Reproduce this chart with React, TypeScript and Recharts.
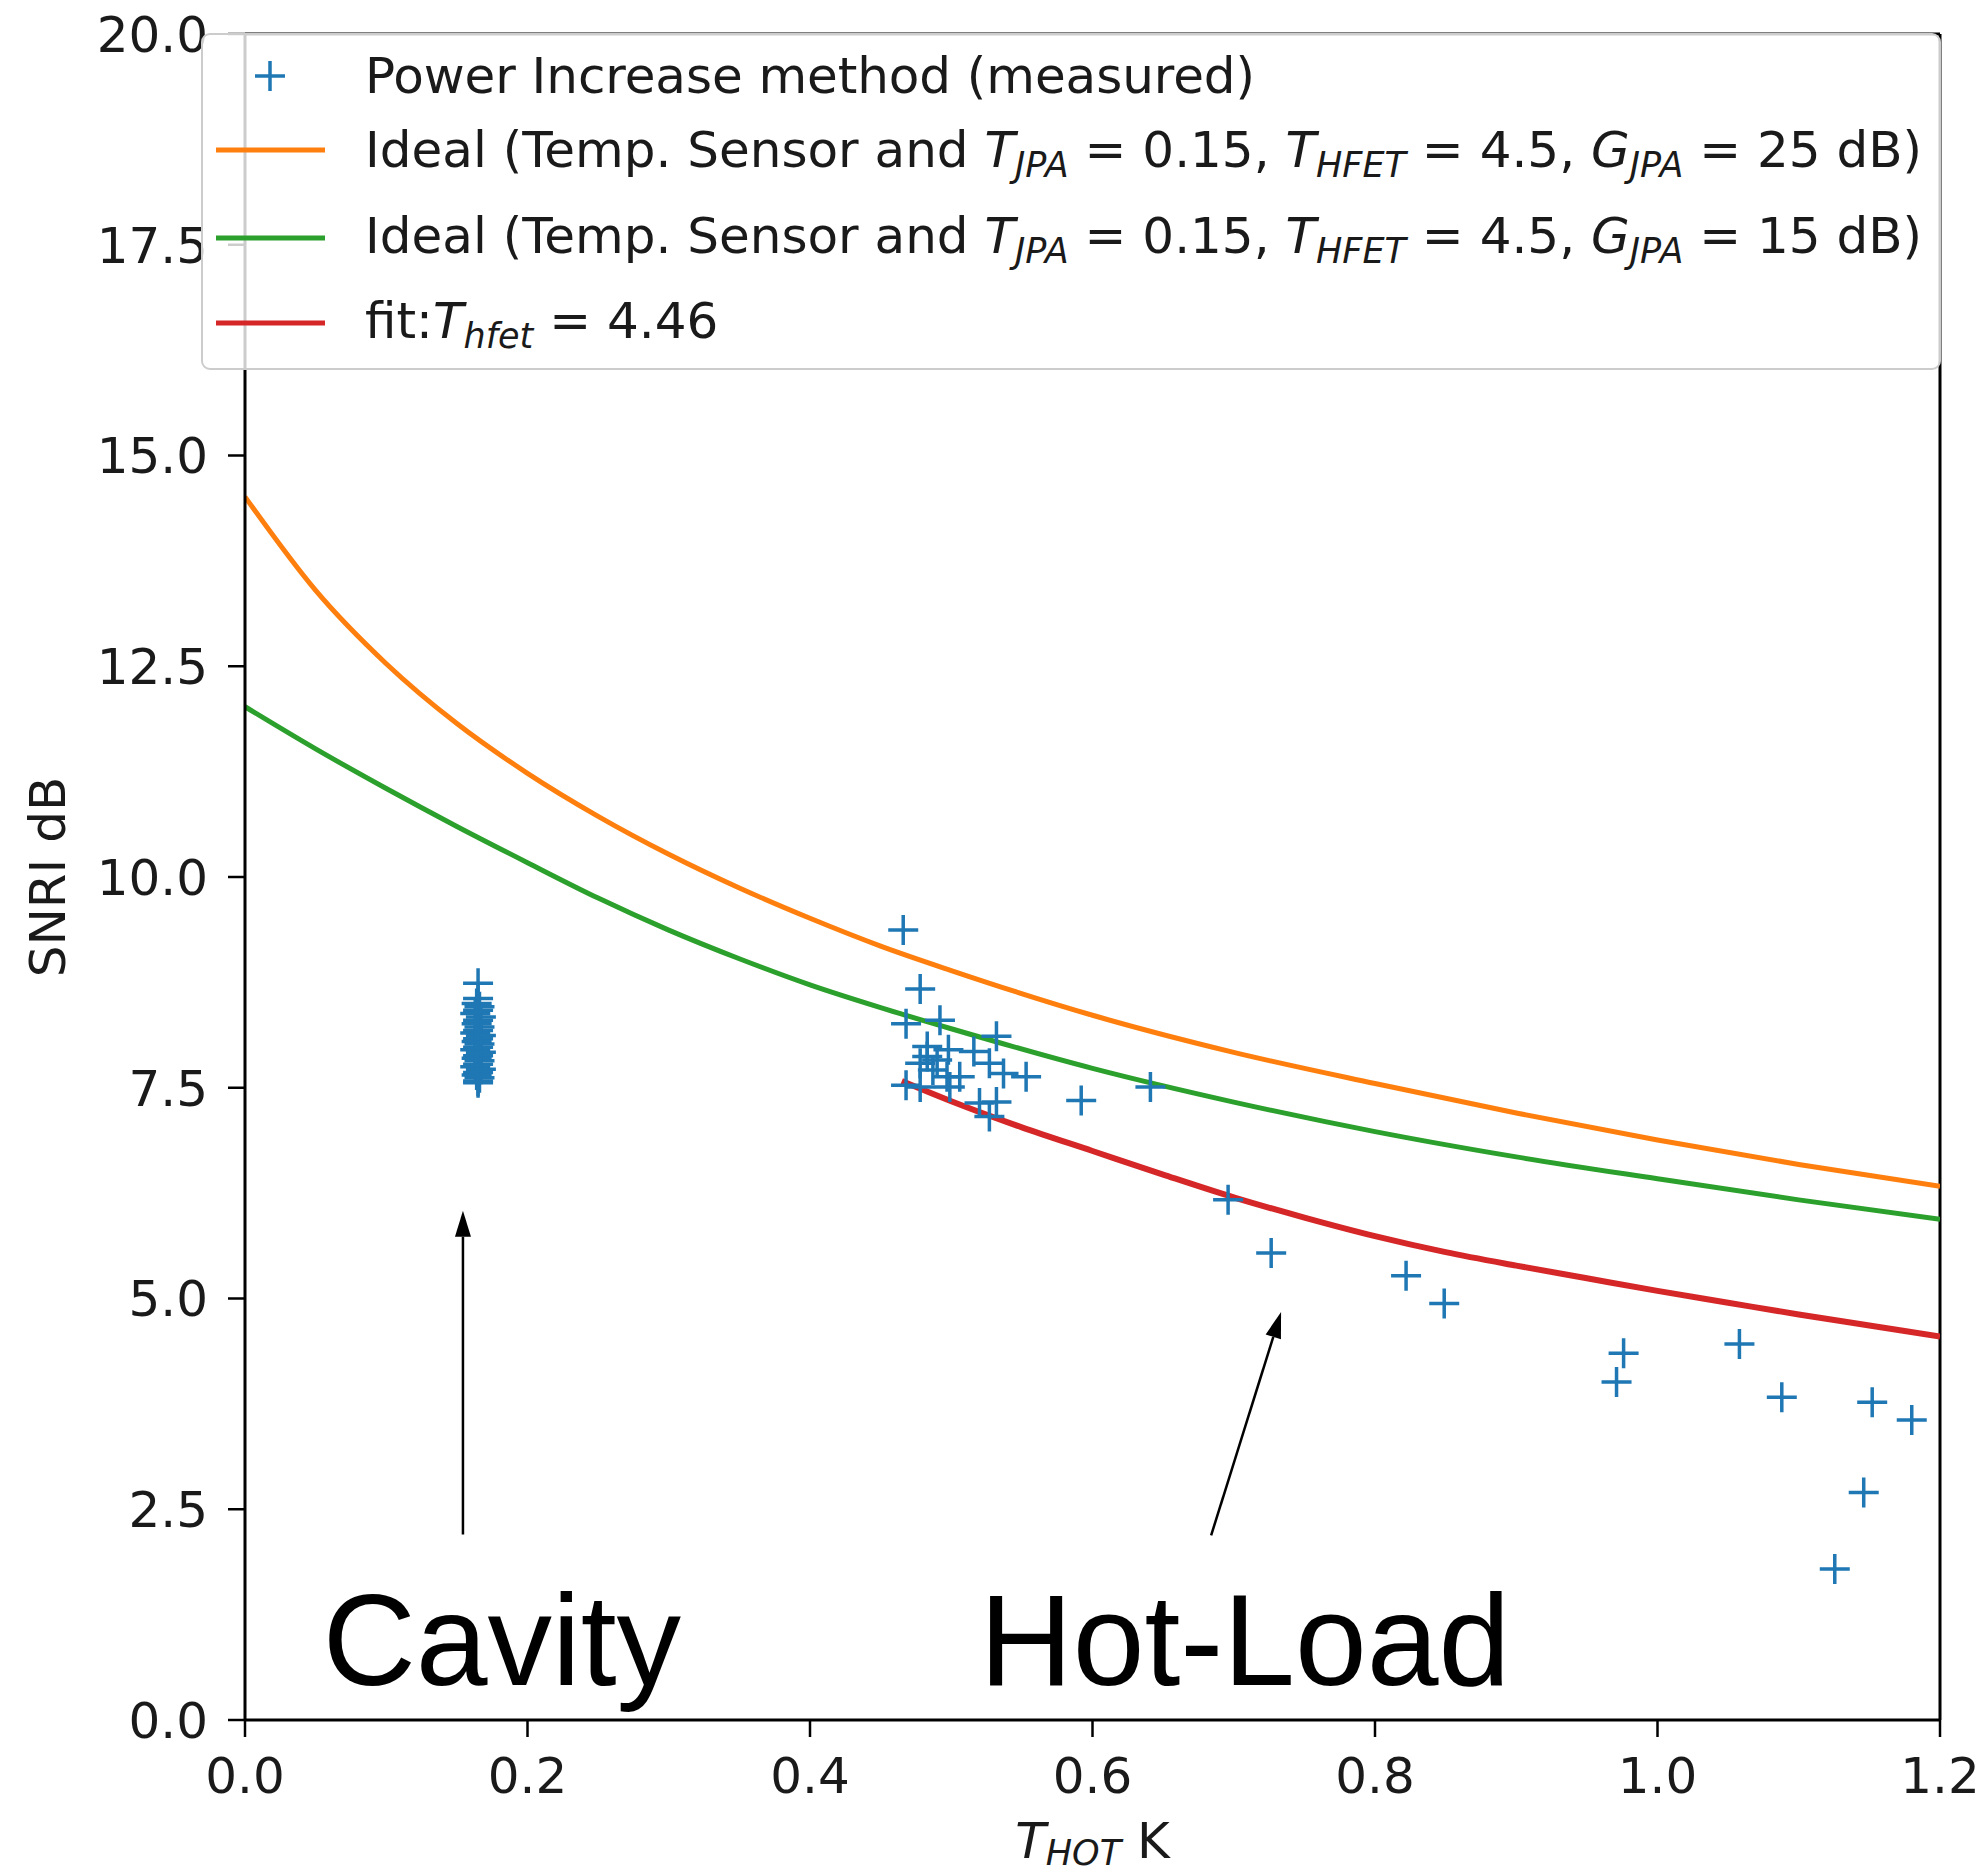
import {
  ComposedChart,
  Line,
  Scatter,
  XAxis,
  YAxis,
  ReferenceLine,
  ReferenceDot,
  Legend,
} from "recharts"

// axis ticks
const tHotTicks = [0, 0.2, 0.4, 0.6, 0.8, 1.0, 1.2]
const snriTicks = [0, 2.5, 5, 7.5, 10, 12.5, 15, 17.5, 20]

// ideal curves
const idealT = [0, 0.05, 0.1, 0.15, 0.2, 0.25, 0.3, 0.35, 0.4, 0.45, 0.5, 0.6, 0.7, 0.8, 0.9, 1.0, 1.1, 1.2]
const ideal25dB = [14.51, 13.4, 12.53, 11.82, 11.23, 10.72, 10.27, 9.87, 9.51, 9.18, 8.89, 8.36, 7.92, 7.55, 7.2, 6.88, 6.59, 6.33]
const ideal15dB = [12.02, 11.52, 11.05, 10.6, 10.17, 9.75, 9.37, 9.03, 8.72, 8.45, 8.2, 7.73, 7.33, 6.98, 6.68, 6.42, 6.17, 5.94]

// fit T_hfet = 4.46
const fitT = [0.465, 0.5, 0.55, 0.6, 0.65, 0.7, 0.75, 0.8, 0.85, 0.9, 0.95, 1.0, 1.05, 1.1, 1.15, 1.2]
const fitSnri = [7.58, 7.34, 7.03, 6.75, 6.47, 6.2, 5.96, 5.74, 5.55, 5.39, 5.24, 5.09, 4.95, 4.81, 4.68, 4.55]

// measured, cavity
const cavityT = [0.165, 0.165, 0.164, 0.166, 0.165, 0.163, 0.167, 0.165, 0.164, 0.166, 0.165, 0.163, 0.167, 0.165, 0.164, 0.166, 0.165, 0.163, 0.167, 0.165, 0.164, 0.166, 0.165, 0.163, 0.167, 0.165, 0.164, 0.166, 0.165, 0.165]
const cavitySnri = [8.74, 8.56, 8.5, 8.46, 8.42, 8.38, 8.34, 8.3, 8.26, 8.22, 8.18, 8.15, 8.12, 8.08, 8.05, 8.02, 7.98, 7.95, 7.92, 7.88, 7.85, 7.82, 7.78, 7.75, 7.72, 7.68, 7.65, 7.62, 7.58, 7.56]

// measured, hot load
const hotLoadT = [0.466, 0.478, 0.468, 0.492, 0.532, 0.483, 0.498, 0.516, 0.527, 0.537, 0.553, 0.478, 0.487, 0.497, 0.468, 0.478, 0.499, 0.506, 0.52, 0.532, 0.527, 0.592, 0.641, 0.483, 0.49, 0.696, 0.7265, 0.822, 0.849, 0.976, 0.971, 1.058, 1.088, 1.152, 1.18, 1.146, 1.1255]
const hotLoadSnri = [9.37, 8.67, 8.26, 8.3, 8.11, 7.99, 7.95, 7.93, 7.79, 7.67, 7.63, 7.79, 7.71, 7.63, 7.53, 7.51, 7.51, 7.63, 7.32, 7.33, 7.16, 7.35, 7.51, 7.87, 7.83, 6.17, 5.54, 5.27, 4.94, 4.35, 4.01, 4.46, 3.83, 3.77, 3.56, 2.7, 1.79]

// annotations
const cavityArrow = [{ x: 0.1543, y: 2.2 }, { x: 0.1543, y: 6.04 }]
const hotLoadArrow = [{ x: 0.684, y: 2.19 }, { x: 0.7335, y: 4.84 }]
const cavityText = { x: 0.055, y: 0.42, text: "Cavity" }
const hotLoadText = { x: 0.52, y: 0.42, text: "Hot-Load" }

const zip = (xs: number[], ys: number[]) => xs.map((x, i) => ({ x, y: ys[i] }))

const measured = [...zip(cavityT, cavitySnri), ...zip(hotLoadT, hotLoadSnri)]
const g25Data = zip(idealT, ideal25dB)
const g15Data = zip(idealT, ideal15dB)
const fitData = zip(fitT, fitSnri)

const BLUE = "#1f77b4"
const ORANGE = "#ff7f0e"
const GREEN = "#2ca02c"
const RED = "#d62728"
const FONT = "DejaVu Sans"
const TXT = "#1a1a1a"

const PlusMarker = (props: any) => {
  const { cx, cy } = props
  return (
    <path
      d={`M${cx - 15},${cy}H${cx + 15}M${cx},${cy - 15}V${cy + 15}`}
      stroke={BLUE}
      strokeWidth={3.5}
      fill="none"
    />
  )
}

const ArrowShape = (p: any) => {
  const { x1, y1, x2, y2 } = p
  const dx = x2 - x1
  const dy = y2 - y1
  const len = Math.hypot(dx, dy)
  const ux = dx / len
  const uy = dy / len
  const hl = 26
  const hw = 8
  const bx = x2 - ux * hl
  const by = y2 - uy * hl
  return (
    <g>
      <line x1={x1} y1={y1} x2={bx} y2={by} stroke="#000" strokeWidth={2.5} />
      <polygon
        points={`${x2},${y2} ${bx - uy * hw},${by + ux * hw} ${bx + uy * hw},${by - ux * hw}`}
        fill="#000"
      />
    </g>
  )
}

const bigText = (text: string) => (p: any) => (
  <text x={p.cx} y={p.cy} fontSize={129} fontFamily="Liberation Sans" fill="#000">
    {text}
  </text>
)

const idealLabel = (gain: string) => (
  <>
    <tspan>Ideal (Temp. Sensor and </tspan>
    <tspan fontStyle="italic">T</tspan>
    <tspan fontStyle="italic" fontSize={35} dy={10}>JPA</tspan>
    <tspan dy={-10}> = 0.15, </tspan>
    <tspan fontStyle="italic">T</tspan>
    <tspan fontStyle="italic" fontSize={35} dy={10}>HFET</tspan>
    <tspan dy={-10}> = 4.5, </tspan>
    <tspan fontStyle="italic">G</tspan>
    <tspan fontStyle="italic" fontSize={35} dy={10}>JPA</tspan>
    <tspan dy={-10}>{` = ${gain} dB)`}</tspan>
  </>
)

const LegendBox = () => (
  <svg width={1740} height={337} style={{ display: "block" }}>
    <rect x={1} y={1} width={1738} height={335} rx={8} fill="#fff" fillOpacity={0.8} stroke="#cccccc" strokeWidth={2} />
    <g fontFamily={FONT} fontSize={50} fill={TXT}>
      <path d="M54,43H84M69,28V58" stroke={BLUE} strokeWidth={3.5} />
      <text x={164} y={60} textLength={890}>Power Increase method (measured)</text>

      <line x1={15} x2={124} y1={117} y2={117} stroke={ORANGE} strokeWidth={5} />
      <text x={164} y={134}>{idealLabel("25")}</text>

      <line x1={15} x2={124} y1={205} y2={205} stroke={GREEN} strokeWidth={5} />
      <text x={164} y={220}>{idealLabel("15")}</text>

      <line x1={15} x2={124} y1={290} y2={290} stroke={RED} strokeWidth={5} />
      <text x={164} y={305}>
        <tspan>fit:</tspan>
        <tspan fontStyle="italic">T</tspan>
        <tspan fontStyle="italic" fontSize={35} dy={10}>hfet</tspan>
        <tspan dy={-10}> = 4.46</tspan>
      </text>
    </g>
  </svg>
)

export default function App() {
  return (
    <div style={{ position: "absolute", left: 0, top: 0, background: "#fff" }}>
      <ComposedChart width={1988} height={1876} margin={{ top: 34, right: 48, bottom: 0, left: 145 }}>
        <XAxis
          dataKey="x"
          type="number"
          domain={[0, 1.2]}
          ticks={tHotTicks}
          interval={0}
          allowDataOverflow
          height={156}
          tickSize={17}
          tickMargin={20}
          tickFormatter={(v: number) => v.toFixed(1)}
          tick={{ fill: TXT, fontSize: 50, fontFamily: FONT }}
          axisLine={{ stroke: "#000", strokeWidth: 3 }}
          tickLine={{ stroke: "#000", strokeWidth: 2.5 }}
          label={{
            content: (props: any) => {
              const vb = props.viewBox
              return (
                <text x={vb.x + vb.width / 2} y={vb.y + 138} textAnchor="middle" fontFamily={FONT} fontSize={50} fill={TXT}>
                  <tspan fontStyle="italic">T</tspan>
                  <tspan fontStyle="italic" fontSize={35} dy={7}>HOT</tspan>
                  <tspan dy={-7}> K</tspan>
                </text>
              )
            },
          }}
        />
        <YAxis
          dataKey="y"
          type="number"
          domain={[0, 20]}
          ticks={snriTicks}
          interval={0}
          allowDataOverflow
          width={100}
          tickSize={17}
          tickMargin={20}
          tickFormatter={(v: number) => v.toFixed(1)}
          tick={{ fill: TXT, fontSize: 50, fontFamily: FONT }}
          axisLine={{ stroke: "#000", strokeWidth: 3 }}
          tickLine={{ stroke: "#000", strokeWidth: 2.5 }}
          label={{
            content: (props: any) => {
              const vb = props.viewBox
              const x = vb.x - 97
              const y = vb.y + vb.height / 2
              return (
                <text x={x} y={y} transform={`rotate(-90, ${x}, ${y})`} textAnchor="middle" dominantBaseline="central" fontFamily={FONT} fontSize={50} fill={TXT}>
                  SNRI dB
                </text>
              )
            },
          }}
        />
        <ReferenceLine x={1.2} stroke="#000" strokeWidth={3} />
        <ReferenceLine y={20} stroke="#000" strokeWidth={3} />

        <Scatter name="Power Increase method (measured)" data={measured} dataKey="y" shape={PlusMarker} isAnimationActive={false} />
        <Line name="ideal25" data={g25Data} dataKey="y" type="monotone" stroke={ORANGE} strokeWidth={5} dot={false} activeDot={false} isAnimationActive={false} />
        <Line name="ideal15" data={g15Data} dataKey="y" type="monotone" stroke={GREEN} strokeWidth={5} dot={false} activeDot={false} isAnimationActive={false} />
        <Line name="fit" data={fitData} dataKey="y" type="monotone" stroke={RED} strokeWidth={6} dot={false} activeDot={false} isAnimationActive={false} />

        <ReferenceLine segment={cavityArrow} shape={ArrowShape} />
        <ReferenceLine segment={hotLoadArrow} shape={ArrowShape} />
        <ReferenceDot x={cavityText.x} y={cavityText.y} r={0} shape={bigText(cavityText.text)} />
        <ReferenceDot x={hotLoadText.x} y={hotLoadText.y} r={0} shape={bigText(hotLoadText.text)} />

        <Legend
          layout="horizontal"
          verticalAlign="middle"
          align="center"
          content={() => <LegendBox />}
          wrapperStyle={{ left: 201, top: 33, width: 1740, height: 337 }}
        />
      </ComposedChart>
    </div>
  )
}
